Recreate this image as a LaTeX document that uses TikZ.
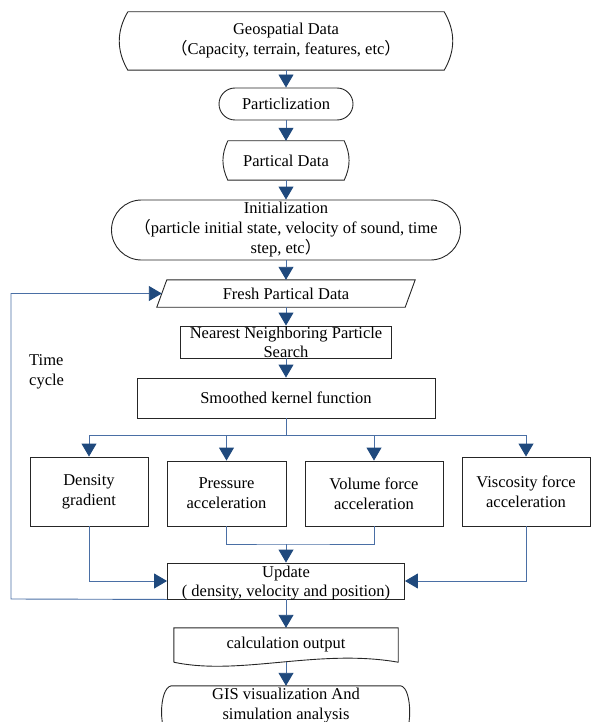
\documentclass[tikz,border=0pt]{standalone}
\usepackage{fontspec}
\setmainfont{Liberation Serif}
\newfontfamily\cjk{Noto Sans CJK SC}
\usetikzlibrary{arrows.meta, calc}
\definecolor{linkblue}{HTML}{4A6FA5}
\definecolor{tipblue}{HTML}{1F497D}
\definecolor{edgegray}{HTML}{262626}
\newcommand{\figfont}{\fontsize{16.5}{20}\selectfont}
\newcommand{\tightfont}{\fontsize{16.5}{19}\selectfont}
\tikzset{every node/.style = {font=\figfont, align=center, inner sep=0pt}}
\tikzset{box/.style = {draw=edgegray, line width=0.9pt}}
\tikzset{outline/.style = {draw=edgegray, line width=0.9pt}}
\tikzset{link/.style = {draw=linkblue, line width=0.9pt}}
\tikzset{flow/.style = {link, -{Triangle[width=15pt, length=13pt, color=tipblue]}}}

\begin{document}
\begin{tikzpicture}[x=1pt, y=-1pt]
\useasboundingbox (0,0) rectangle (592,722);
\node[minimum width=316pt, minimum height=58pt] (geo) at (286,41) {Geospatial Data\\{\cjk （}Capacity, terrain, features, etc{\cjk ）}};
\draw[outline] (geo.north west) -- (geo.north east) to[bend left=30] (geo.south east) -- (geo.south west) to[bend left=30] (geo.north west);
\node[box, rounded corners=16pt, minimum width=134pt, minimum height=32pt] (part) at (286,104) {Particlization};
\node[minimum width=116pt, minimum height=39pt] (pdata) at (286,160.5) {Partical Data};
\draw[outline] (pdata.north west) -- (pdata.north east) to[bend left=25] (pdata.south east) -- (pdata.south west) to[bend left=25] (pdata.north west);
\node[box, rounded corners=30pt, minimum width=349pt, minimum height=60pt] (init) at (286,230) {Initialization\\{\cjk （}particle initial state, velocity of sound, time\\step, etc{\cjk ）}};
\node[minimum width=248pt, minimum height=27pt] (fresh) at (286,293.5) {Fresh Partical Data};
\draw[outline] ($(fresh.south west)+(-5,0)$) -- ($(fresh.north west)+(5,0)$) -- ($(fresh.north east)+(5,0)$) -- ($(fresh.south east)+(-5,0)$) -- cycle;
\node[box, minimum width=211pt, minimum height=32pt, label={[font=\tightfont]center:Nearest Neighboring Particle\\Search}] (nn) at (286,342) {};
\node[box, minimum width=298pt, minimum height=40pt] (kernel) at (286,398) {Smoothed kernel function};
\node[box, minimum width=118pt, minimum height=69pt] (dens) at (89,491.5) {Density\\gradient};
\node[box, minimum width=119pt, minimum height=65pt] (pres) at (226.5,493.5) {Pressure\\acceleration};
\node[box, minimum width=138pt, minimum height=65pt] (vol) at (374,493.5) {Volume force\\acceleration};
\node[box, minimum width=128pt, minimum height=69pt] (visc) at (526,491.5) {Viscosity force\\acceleration};
\node[box, minimum width=237pt, minimum height=36pt, label={[font=\tightfont, yshift=-2pt]center:Update\\( density, velocity and position)}] (upd) at (286,581) {};
\node[minimum width=224pt, minimum height=34pt] (calc) at (286,645) {calculation output};
\draw[outline] (calc.south west) -- (calc.north west) -- (calc.north east) -- (calc.south east) .. controls +(-80,-14) and +(66,14) .. (calc.south west);
\node[minimum width=229pt, minimum height=52pt, label={[yshift=6pt]center:GIS visualization And\\simulation analysis}] (gis) at (286,712) {};
\draw[outline] (gis.north west) -- (gis.north east) .. controls +(12,2) and +(12,-2) .. (gis.south east) -- (gis.south west) .. controls +(-13,-2) and +(-13,2) .. (gis.north west);
\node[anchor=west, align=left] (cycle) at (29,372) {Time\\cycle};
\coordinate (branch) at (286,435);
\coordinate (merge) at (286,544);
\coordinate (loop) at (11,599);
\foreach \a/\b in {geo/part, part/pdata, pdata/init, init/fresh, fresh/nn, nn/kernel, upd/calc, calc/gis}
  \draw[flow] (\a.south) -- (\b.north);
\draw[link] (kernel.south) -- (branch);
\foreach \n in {dens, pres, vol, visc}
  \draw[flow] (branch) -| (\n.north);
\draw[link] (pres.south) |- (merge) -| (vol.south);
\draw[flow] (merge) -- (upd.north);
\draw[flow] (dens.south) |- (upd.west);
\draw[flow] (visc.south) |- (upd.east);
\draw[flow] (upd.south west) -- (loop) |- (fresh.west);
\end{tikzpicture}
\end{document}
